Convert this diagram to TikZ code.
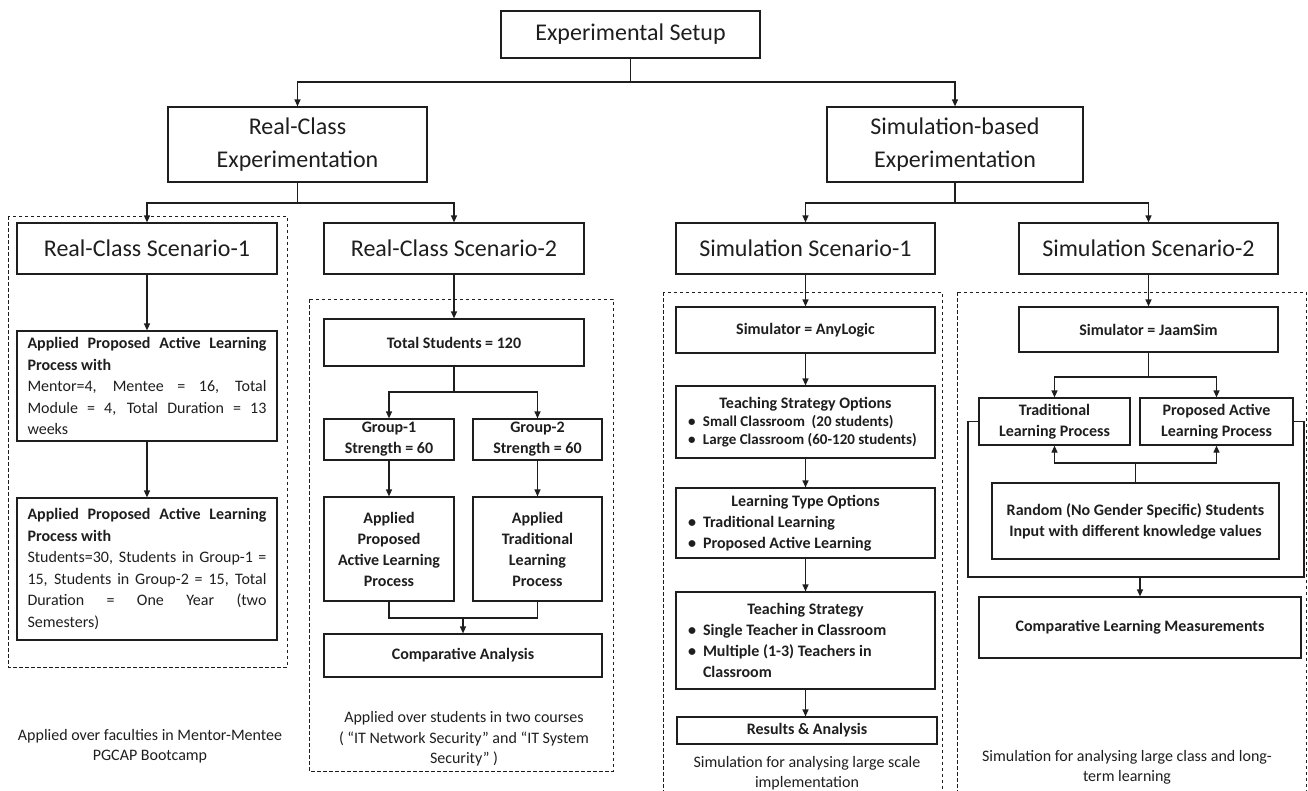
\documentclass[tikz,border=0pt]{standalone}
\usepackage{fontspec}
\setmainfont{Carlito}
\usetikzlibrary{arrows.meta}
\definecolor{ink}{RGB}{30,30,30}
\newcommand\bitem[1]{\par\hangindent=19pt\hangafter=1\noindent\hspace*{4pt}\makebox[15pt][l]{\textbullet}#1}
\begin{document}
\begin{tikzpicture}[x=1pt,y=-1pt,line join=miter,
  bx/.style={draw=ink,line width=1.2pt,rectangle,inner sep=0pt,align=center,text=ink},
  big/.style={font=\fontsize{24}{33}\selectfont},
  bf/.style={font=\fontsize{16}{21}\selectfont\bfseries},
  ln/.style={draw=ink,line width=1.2pt},
  arr/.style={draw=ink,line width=1.2pt,-{Triangle[length=7pt,width=6pt]}},
  dbox/.style={draw=ink,line width=1pt,dash pattern=on 3.5pt off 2.5pt},
  note/.style={align=center,text=ink,font=\fontsize{16}{20.5}\selectfont,inner sep=0pt}]
\path[use as bounding box] (0,0) rectangle (1308,790);
\clip (0,0) rectangle (1308,790);

% dashed groups
\draw[dbox] (8,216) rectangle (287,667);
\draw[dbox] (309,299) rectangle (613,771);
\draw[dbox] (663,292) rectangle (942,800);
\draw[dbox] (957,292) rectangle (1306,800);

% top levels
\node[bx,big,minimum width=259pt,minimum height=47pt] (top) at (630.5,34.5) {Experimental Setup};
\node[bx,big,minimum width=259pt,minimum height=75pt] (rce) at (297.5,144.5) {Real-Class\\Experimentation};
\node[bx,big,minimum width=256pt,minimum height=75pt] (sbe) at (955,144.5) {Simulation-based\\Experimentation};
\node[bx,big,minimum width=260pt,minimum height=51pt] (rs1) at (147,248.5) {Real-Class Scenario-1};
\node[bx,big,minimum width=260pt,minimum height=51pt] (rs2) at (454,248.5) {Real-Class Scenario-2};
\node[bx,big,minimum width=259pt,minimum height=51pt] (ss1) at (805.5,248.5) {Simulation Scenario-1};
\node[bx,big,minimum width=259pt,minimum height=51pt] (ss2) at (1148.5,248.5) {Simulation Scenario-2};

\coordinate (tj) at (630.5,82);
\draw[ln] (top.south) -- (tj);
\draw[arr] (tj) -| (rce.north);
\draw[arr] (tj) -| (sbe.north);
\coordinate (rj) at (297.5,203);
\draw[ln] (rce.south) -- (rj);
\draw[arr] (rj) -| (rs1.north);
\draw[arr] (rj) -| (rs2.north);
\coordinate (sj) at (955,203);
\draw[ln] (sbe.south) -- (sj);
\draw[arr] (sj) -| (ss1.north);
\draw[arr] (sj) -| (ss2.north);

% left column
\node[bx,minimum width=260pt,minimum height=110pt] (a1) at (147,386) {\parbox{239pt}{\fontsize{16}{21.5}\selectfont\hyphenpenalty=10000
\textbf{Applied Proposed Active Learning Process with}\par
Mentor=4, Mentee = 16, Total\linebreak Module = 4, Total Duration = 13\linebreak weeks}};
\node[bx,minimum width=260pt,minimum height=142pt] (a2) at (147,569) {\parbox{239pt}{\fontsize{16}{21.5}\selectfont\hyphenpenalty=10000
\textbf{Applied Proposed Active Learning Process with}\par
Students=30, Students in Group-1 =\linebreak 15, Students in Group-2 = 15, Total\linebreak Duration = One Year (two\linebreak Semesters)}};
\draw[arr] (rs1.south) -- (a1.north);
\draw[arr] (a1.south) -- (a2.north);
\node[note] (n1) at (150,746) {Applied over faculties in Mentor-Mentee\\PGCAP Bootcamp};

% middle-left column
\node[bx,bf,minimum width=260pt,minimum height=47pt] (ts) at (454,342.5) {Total Students = 120};
\node[bx,bf,minimum width=130pt,minimum height=41pt] (g1) at (389,439.5) {Group-1\\Strength = 60};
\node[bx,bf,minimum width=129pt,minimum height=41pt] (g2) at (537.5,439.5) {Group-2\\Strength = 60};
\node[bx,bf,minimum width=130pt,minimum height=104pt] (p1) at (389,549) {Applied\\Proposed\\Active Learning\\Process};
\node[bx,bf,minimum width=129pt,minimum height=104pt] (p2) at (537.5,549) {Applied\\Traditional\\Learning\\Process};
\node[bx,bf,minimum width=278pt,minimum height=43pt] (ca) at (463,655.5) {Comparative Analysis};
\draw[arr] (rs2.south) -- (ts.north);
\coordinate (tsj) at (454,392);
\draw[ln] (ts.south) -- (tsj);
\draw[arr] (tsj) -| (g1.north);
\draw[arr] (tsj) -| (g2.north);
\draw[arr] (g1.south) -- (p1.north);
\draw[arr] (g2.south) -- (p2.north);
\coordinate (pj) at (463,618);
\draw[ln] (p1.south) |- (pj);
\draw[ln] (p2.south) |- (pj);
\draw[arr] (pj) -- (ca.north);
\node[note] (n2) at (464,739) {Applied over students in two courses\\( “IT Network Security” and “IT System\\Security” )};

% middle-right column
\node[bx,bf,minimum width=259pt,minimum height=46pt] (sim1) at (805.5,330) {Simulator = AnyLogic};
\node[bx,minimum width=259pt,minimum height=72pt] (tso) at (805.5,422) {\parbox{243pt}{\color{ink}\centering\fontsize{16}{19}\selectfont\bfseries Teaching Strategy Options\par\raggedright\fontsize{15}{18}\selectfont
\bitem{Small Classroom\ \ (20 students)}
\bitem{Large Classroom (60-120 students)}}};
\node[bx,minimum width=259pt,minimum height=70pt] (lto) at (805.5,523) {\parbox{243pt}{\color{ink}\centering\fontsize{16}{21}\selectfont\bfseries Learning Type Options\par\raggedright
\bitem{Traditional Learning}
\bitem{Proposed Active Learning}}};
\node[bx,minimum width=259pt,minimum height=97pt] (tst) at (805.5,640.5) {\parbox{243pt}{\color{ink}\centering\fontsize{16}{21}\selectfont\bfseries Teaching Strategy\par\raggedright
\bitem{Single Teacher in Classroom}
\bitem{Multiple (1-3) Teachers in\newline Classroom}}};
\node[bx,bf,minimum width=260pt,minimum height=27pt] (ra) at (807,730.5) {Results \& Analysis};
\draw[arr] (ss1.south) -- (sim1.north);
\draw[arr] (sim1.south) -- (tso.north);
\draw[arr] (tso.south) -- (lto.north);
\draw[arr] (lto.south) -- (tst.north);
\draw[arr] (tst.south) -- (tst.south |- ra.north);
\node[note] (n3) at (807,773) {Simulation for analysing large scale\\implementation};

% right column
\node[bx,bf,minimum width=259pt,minimum height=45pt] (sim2) at (1148.5,329.5) {Simulator = JaamSim};
\node[bx,bf,minimum width=151pt,minimum height=47pt] (tlp) at (1054.5,421.5) {Traditional\\Learning Process};
\node[bx,bf,minimum width=153pt,minimum height=47pt] (palp) at (1216.5,421.5) {Proposed Active\\Learning Process};
\node[bx,bf,minimum width=287pt,minimum height=76pt] (rnd) at (1135.5,521) {Random (No Gender Specific) Students\\Input with different knowledge values};
\node[bx,bf,minimum width=322pt,minimum height=61pt] (clm) at (1140,627.5) {Comparative Learning Measurements};
\draw[arr] (ss2.south) -- (sim2.north);
\coordinate (s2j) at (1148.5,377);
\draw[ln] (sim2.south) -- (s2j);
\draw[arr] (s2j) -| (tlp.north);
\draw[arr] (s2j) -| (palp.north);
\coordinate (rj2) at (1135.5,463);
\draw[ln] (rnd.north) -- (rj2);
\draw[arr] (rj2) -| (tlp.south);
\draw[arr] (rj2) -| (palp.south);
\coordinate (fbl) at (968,577);
\coordinate (fbr) at (1304,577);
\draw[ln] (tlp.west) -| (fbl) -- (fbr) |- (palp.east);
\coordinate (fj) at (1140,577);
\draw[arr] (fj) -- (clm.north);
\node[note] (n4) at (1127,767.5) {Simulation for analysing large class and long-\\term learning};
\end{tikzpicture}
\end{document}
